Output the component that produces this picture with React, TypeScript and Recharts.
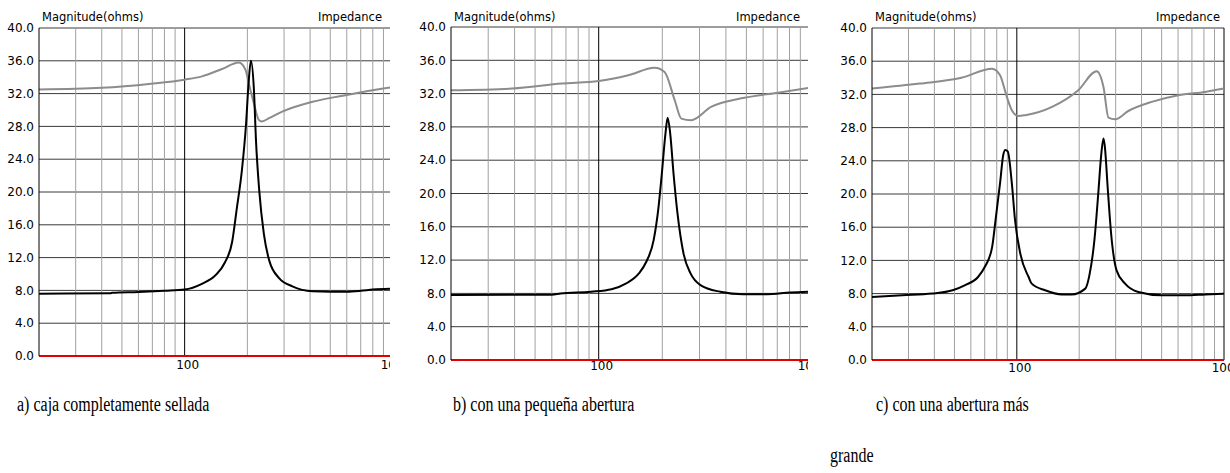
import { LineChart, Line, XAxis, YAxis, CartesianGrid, ReferenceLine } from 'recharts'

// a) sealed box — frequency (Hz) / magnitude (ohms)
const sealedFreq = [20, 44, 45, 60, 80, 100, 121, 140, 156, 169, 178, 188, 197, 203, 208, 215, 220, 228, 240, 255, 284, 329, 411, 500, 600, 700, 800, 1000]
const sealedMag = [7.6, 7.65, 7.7, 7.8, 7.95, 8.1, 8.8, 9.8, 11.4, 13.9, 18, 22.5, 28.2, 33.5, 36, 32.5, 26.3, 20.2, 14.9, 11.6, 9.5, 8.5, 7.9, 7.85, 7.85, 7.95, 8.1, 8.2]
const sealedPhaseFreq = [20, 40, 69, 100, 121, 151, 182, 196, 203, 215, 227, 235, 254, 294, 411, 574, 715, 1000]
const sealedPhase = [32.5, 32.7, 33.2, 33.7, 34.1, 35.0, 35.8, 34.9, 33.3, 30.8, 28.8, 28.6, 29.0, 29.8, 31.0, 31.75, 32.2, 32.8]

// b) small opening
const smallFreq = [20, 60, 66, 92, 115, 135, 155, 168, 182, 192, 199, 207, 212, 218, 226, 236, 252, 272, 303, 376, 483, 626, 805, 1000]
const smallMag = [7.8, 7.85, 8.0, 8.2, 8.5, 9.2, 10.4, 11.8, 14.4, 18.4, 22.4, 27.2, 29.1, 27.2, 22.4, 17.6, 12.8, 10.4, 9.0, 8.2, 7.9, 7.9, 8.1, 8.2]
const smallPhaseFreq = [20, 39, 67, 100, 138, 184, 205, 229, 246, 274, 340, 489, 705, 1000]
const smallPhase = [32.4, 32.6, 33.2, 33.5, 34.2, 35.1, 34.6, 31.2, 29.0, 28.8, 30.4, 31.5, 32.1, 32.7]

// c) larger opening
const largeFreq = [20, 28, 39, 49, 56, 65, 70, 76, 79, 83, 86, 88, 90.5, 94.6, 98, 104, 114, 118, 137, 165, 184, 214, 224, 237, 248, 255, 262, 266, 275, 285, 303, 333, 386, 501, 647, 810, 1000]
const largeMag = [7.6, 7.8, 8.0, 8.4, 9.0, 10.0, 11.2, 13.6, 16.9, 21.3, 24.7, 25.3, 25.1, 21.3, 16.9, 12.8, 10.0, 9.2, 8.4, 7.9, 7.9, 8.6, 10.2, 14.5, 20.5, 24.5, 26.7, 25.7, 20.5, 15.3, 10.8, 9.2, 8.2, 7.8, 7.8, 7.9, 8.0]
const largePhaseFreq = [20, 34, 54, 76, 83, 89.5, 94.6, 102, 110, 148, 198, 243, 262, 277, 298, 345, 448, 603, 810, 1000]
const largePhase = [32.7, 33.3, 34.0, 35.1, 34.3, 31.7, 30.1, 29.4, 29.5, 30.5, 32.5, 34.8, 32.9, 29.2, 29.0, 30.0, 31.1, 31.9, 32.3, 32.7]

const MINOR_FREQS = [30, 40, 50, 60, 70, 80, 90, 200, 300, 400, 500, 600, 700, 800, 900]
const MAJOR_FREQS = [100, 1000]
const X_TICKS = [100, 1000]
const Y_TICKS = [0, 4, 8, 12, 16, 20, 24, 28, 32, 36, 40]

type Pt = { f: number; v: number }
const toPoints = (freq: number[], vals: number[]): Pt[] => freq.map((f, i) => ({ f, v: vals[i] }))

const SANS = '"DejaVu Sans", Verdana, sans-serif'
const SERIF = '"Liberation Serif", "Times New Roman", serif'

interface PanelProps {
  left: number
  clipWidth: number
  axisWidth: number
  plotWidth: number
  top: number
  plotHeight: number
  tickGap: number
  headRight: number
  mag: Pt[]
  phase: Pt[]
}

function Panel(p: PanelProps) {
  const chartW = p.axisWidth + p.plotWidth + 20
  const chartH = p.top + p.plotHeight + 30
  return (
    <div style={{ position: 'absolute', left: p.left, top: 0, width: p.clipWidth, height: chartH, overflow: 'hidden' }}>
      <div style={{ position: 'absolute', left: p.axisWidth + 3, top: 10, fontFamily: SANS, fontSize: 11.5, lineHeight: '14px', color: '#000' }}>
        Magnitude(ohms)
      </div>
      <div style={{ position: 'absolute', right: p.headRight, top: 10, fontFamily: SANS, fontSize: 11.5, lineHeight: '14px', color: '#000' }}>
        Impedance
      </div>
      <LineChart width={chartW} height={chartH} margin={{ top: p.top, right: 20, bottom: 0, left: 0 }}>
        <CartesianGrid vertical={false} stroke="#3a3a3a" />
        <XAxis
          dataKey="f"
          type="number"
          scale="log"
          domain={[20, 1000]}
          ticks={X_TICKS}
          allowDataOverflow
          axisLine={false}
          tickLine={false}
          tickSize={0}
          tickMargin={p.tickGap}
          height={30}
          tick={{ fontSize: 12, fill: '#000', fontFamily: SANS, dx: 3 }}
        />
        <YAxis
          type="number"
          domain={[0, 40]}
          ticks={Y_TICKS}
          width={p.axisWidth}
          axisLine={{ stroke: '#000' }}
          tickLine={false}
          tickSize={0}
          tickMargin={5}
          tickFormatter={(v: number) => v.toFixed(1)}
          tick={{ fontSize: 12, fill: '#000', fontFamily: SANS }}
        />
        {MINOR_FREQS.map(f => (
          <ReferenceLine key={f} x={f} stroke="#a0a0a0" />
        ))}
        {MAJOR_FREQS.map(f => (
          <ReferenceLine key={f} x={f} stroke="#000" />
        ))}
        <ReferenceLine y={0} stroke="#e00000" strokeWidth={2} />
        <Line data={p.phase} dataKey="v" type="monotone" stroke="#8c8c8c" strokeWidth={2} dot={false} isAnimationActive={false} />
        <Line data={p.mag} dataKey="v" type="monotone" stroke="#000" strokeWidth={2} dot={false} isAnimationActive={false} />
      </LineChart>
    </div>
  )
}

const captionStyle: React.CSSProperties = {
  position: 'absolute',
  fontFamily: SERIF,
  fontSize: 20,
  lineHeight: '24px',
  color: '#000',
  whiteSpace: 'nowrap',
  transform: 'scaleX(0.8)',
  transformOrigin: 'left center',
}

export default function App() {
  return (
    <div style={{ position: 'absolute', left: 0, top: 0, width: 1230, height: 473, background: '#fff', overflow: 'hidden' }}>
      <Panel left={0} clipWidth={390} axisWidth={39} plotWidth={354} top={28} plotHeight={328} tickGap={4} headRight={8}
        mag={toPoints(sealedFreq, sealedMag)} phase={toPoints(sealedPhaseFreq, sealedPhase)} />
      <Panel left={410} clipWidth={398} axisWidth={41} plotWidth={359} top={27} plotHeight={333} tickGap={1} headRight={8}
        mag={toPoints(smallFreq, smallMag)} phase={toPoints(smallPhaseFreq, smallPhase)} />
      <Panel left={820} clipWidth={410} axisWidth={52} plotWidth={352} top={28} plotHeight={332} tickGap={3} headRight={10}
        mag={toPoints(largeFreq, largeMag)} phase={toPoints(largePhaseFreq, largePhase)} />

      <div style={{ ...captionStyle, left: 17, top: 392 }}>a) caja completamente sellada</div>
      <div style={{ ...captionStyle, left: 453, top: 392 }}>b) con una pequeña abertura</div>
      <div style={{ ...captionStyle, left: 876, top: 392 }}>c) con una abertura más</div>
      <div style={{ ...captionStyle, left: 830, top: 443 }}>grande</div>
    </div>
  )
}
